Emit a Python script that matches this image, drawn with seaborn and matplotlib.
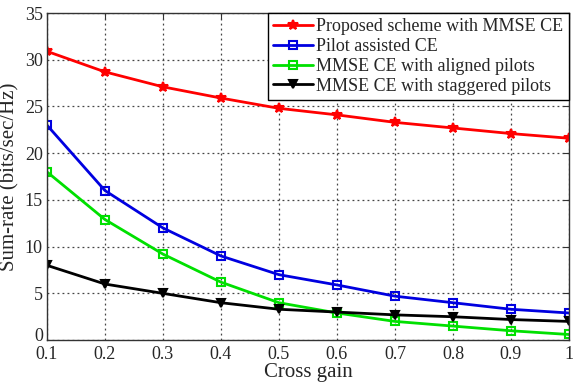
import pandas as pd
import matplotlib
matplotlib.use("Agg")
import matplotlib.pyplot as plt
import matplotlib.transforms as mtransforms
import seaborn as sns

# --- DATOS ---
cross_gain = [0.1, 0.2, 0.3, 0.4, 0.5, 0.6, 0.7, 0.8, 0.9, 1.0]
proposed = [30.9, 28.7, 27.1, 25.9, 24.8, 24.1, 23.3, 22.7, 22.1, 21.6]
pilot_assisted = [23.0, 16.0, 12.0, 9.0, 7.0, 5.9, 4.7, 4.0, 3.3, 2.9]
aligned = [18.0, 12.9, 9.2, 6.2, 4.0, 2.9, 2.0, 1.5, 1.0, 0.6]
staggered = [8.0, 6.0, 5.0, 4.0, 3.3, 3.0, 2.7, 2.5, 2.2, 2.0]

labels = ['Proposed scheme with MMSE CE', 'Pilot assisted CE',
          'MMSE CE with aligned pilots', 'MMSE CE with staggered pilots']
series = [proposed, pilot_assisted, aligned, staggered]

# estilo
sns.set_style("white")
plt.rcParams['font.family'] = ['Liberation Serif', 'DejaVu Serif']

fig = plt.figure(figsize=(5.73, 3.83), dpi=100)
ax = fig.add_axes([0.082, 0.112, 0.911, 0.854])

colores = ['#ff0000', '#0000e0', '#00e000', '#000000']
marcadores = ['*', 's', 's', 'v']
rellenos = [True, False, False, True]

for vals, lab, c, m, f in zip(series, labels, colores, marcadores, rellenos):
    df = pd.DataFrame({'x': cross_gain, 'y': vals})
    sns.lineplot(data=df, x='x', y='y', ax=ax, color=c, marker=m, label=lab,
                 linewidth=2, markersize=7 if m == '*' else 6,
                 markerfacecolor=c if f else 'none', markeredgecolor=c,
                 markeredgewidth=1.5)

ax.set_xlim(0.1, 1.0)
ax.set_ylim(0, 35)
ax.set_xticks(cross_gain)
ax.set_xticklabels(['0.1', '0.2', '0.3', '0.4', '0.5', '0.6', '0.7', '0.8', '0.9', '1'])
ax.set_yticks(range(0, 36, 5))
ax.grid(True, color='#444444', linestyle=(0, (1.5, 2.5)), linewidth=0.9)
for s in ax.spines.values():
    s.set_color('#333333')
    s.set_linewidth(1.0)
ax.tick_params(labelsize=13, direction='in', length=4, color='#333333',
               top=True, right=True)
ax.tick_params(axis='x', pad=4)
ax.tick_params(axis='y', pad=3)
ax.set_xlabel('Cross gain', fontsize=15, labelpad=0)
ax.set_ylabel('Sum-rate (bits/sec/Hz)', fontsize=15, labelpad=4)

# subir un poco el "0" del eje y para que no pise al "0.1"
lbl0 = ax.get_yticklabels()[0]
lbl0.set_transform(lbl0.get_transform() +
                   mtransforms.ScaledTranslation(0, 4 / 72, fig.dpi_scale_trans))

leg = ax.legend(loc='upper right', fontsize=13, frameon=True, fancybox=False,
                edgecolor='black', framealpha=1, handlelength=2.2,
                handletextpad=0.2, labelspacing=0.15, borderpad=0.3,
                borderaxespad=0.0)
leg.get_frame().set_linewidth(1.0)

plt.savefig('out.png', dpi=100)
